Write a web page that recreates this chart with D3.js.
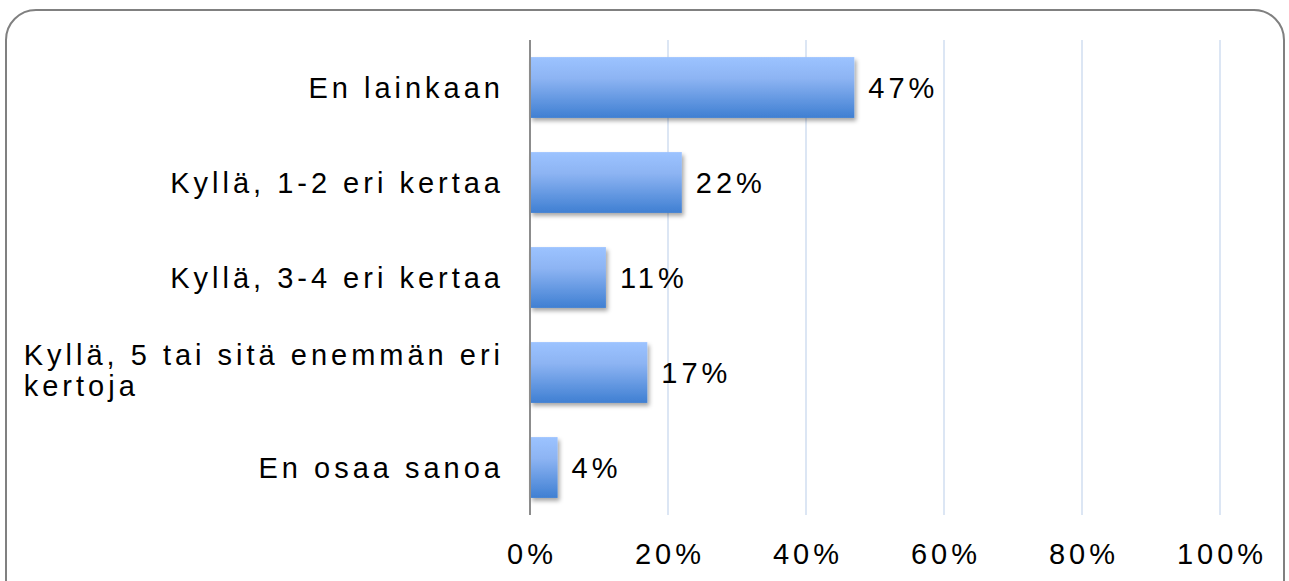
<!DOCTYPE html>
<html>
<head>
<meta charset="utf-8">
<script src="https://cdn.jsdelivr.net/npm/d3@7"></script>
<style>
  body { margin: 0; background: #fff; }
  text { font-family: "Liberation Sans", Arial, sans-serif; fill: #000; }
</style>
</head>
<body>
<svg id="chart" width="1289" height="581"></svg>
<script>
// data
let categories = ["En lainkaan", "Kyllä, 1-2 eri kertaa", "Kyllä, 3-4 eri kertaa",
    "Kyllä, 5 tai sitä enemmän eri|kertoja", "En osaa sanoa"];
let values = [47, 22, 11, 17, 4];
let tickValues = [0, 20, 40, 60, 80, 100];

let fontSize = 29, spacing = 4;

let svg = d3.select("#chart");

// rounded frame
svg.append("rect")
    .attr("x", 6).attr("y", 10)
    .attr("width", 1278).attr("height", 620)
    .attr("rx", 30)
    .attr("fill", "#fff")
    .attr("stroke", "#808080")
    .attr("stroke-width", 2);

let defs = svg.append("defs");
let grad = defs.append("linearGradient")
    .attr("id", "barGrad")
    .attr("x1", 0).attr("y1", 0).attr("x2", 0).attr("y2", 1);
grad.append("stop").attr("offset", "0%").attr("stop-color", "#9cc3ff");
grad.append("stop").attr("offset", "35%").attr("stop-color", "#8db4f3");
grad.append("stop").attr("offset", "100%").attr("stop-color", "#3f7fd2");

let shadow = defs.append("filter").attr("id", "shadow")
    .attr("x", "-10%").attr("y", "-10%").attr("width", "130%").attr("height", "140%");
shadow.append("feDropShadow")
    .attr("dx", 2).attr("dy", 3).attr("stdDeviation", 2)
    .attr("flood-color", "#000").attr("flood-opacity", 0.35);

let x = d3.scaleLinear().domain([0, 100]).range([530, 1220]);
let y = d3.scaleBand().domain(categories).range([40, 515]).paddingInner(0.36).paddingOuter(0.18);

// gridlines
svg.append("g")
    .selectAll("line")
    .data(tickValues.slice(1))
    .join("line")
    .attr("x1", d => x(d)).attr("x2", d => x(d))
    .attr("y1", 40).attr("y2", 515)
    .attr("stroke", "#dce6f4")
    .attr("stroke-width", 2);

// bars
svg.append("g")
    .selectAll("rect")
    .data(values)
    .join("rect")
    .attr("x", x(0))
    .attr("y", (d, i) => y(categories[i]))
    .attr("width", d => x(d) - x(0))
    .attr("height", y.bandwidth())
    .attr("fill", "url(#barGrad)")
    .attr("filter", "url(#shadow)");

// value axis line
svg.append("line")
    .attr("x1", x(0)).attr("x2", x(0))
    .attr("y1", 40).attr("y2", 515)
    .attr("stroke", "#8c8c8c")
    .attr("stroke-width", 2);

function styleText(sel) {
    sel.attr("font-size", fontSize).attr("letter-spacing", spacing);
}

// data labels
svg.append("g")
    .selectAll("text")
    .data(values)
    .join("text")
    .attr("x", d => x(d) + 14)
    .attr("y", (d, i) => y(categories[i]) + y.bandwidth() / 2)
    .attr("dy", "0.35em")
    .call(styleText)
    .text(d => d + "%");

// category labels
let catG = svg.append("g");
categories.forEach(function (c) {
    let lines = c.split("|");
    let cy = y(c) + y.bandwidth() / 2;
    if (lines.length === 1) {
        catG.append("text")
            .attr("x", 500 + spacing).attr("y", cy).attr("dy", "0.35em")
            .attr("text-anchor", "end")
            .call(styleText)
            .text(c);
    } else {
        let first = catG.append("text")
            .attr("x", 500 + spacing).attr("y", cy - 17.5).attr("dy", "0.35em")
            .attr("text-anchor", "end")
            .call(styleText)
            .text(lines[0]);
        let left = first.node().getBBox().x;
        catG.append("text")
            .attr("x", left).attr("y", cy + 13.5).attr("dy", "0.35em")
            .call(styleText)
            .text(lines[1]);
    }
});

// tick labels
svg.append("g")
    .selectAll("text")
    .data(tickValues)
    .join("text")
    .attr("x", d => x(d) + spacing / 2)
    .attr("y", 554)
    .attr("dy", "0.35em")
    .attr("text-anchor", "middle")
    .call(styleText)
    .text(d => d + "%");
</script>
</body>
</html>
